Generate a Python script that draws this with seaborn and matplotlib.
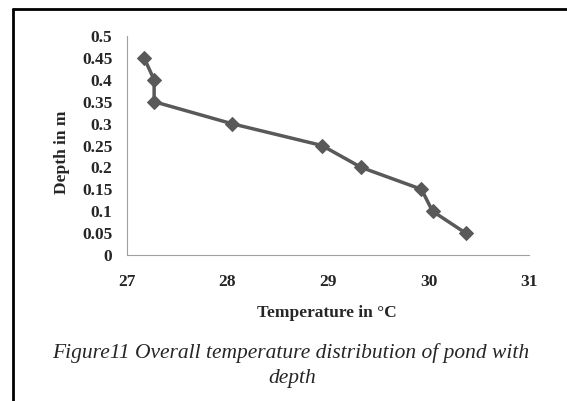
import matplotlib
matplotlib.use("Agg")
import matplotlib.pyplot as plt
import seaborn as sns
import pandas as pd
from matplotlib.lines import Line2D

temperature = [27.17, 27.27, 27.27, 28.04, 28.94, 29.33, 29.93, 30.04, 30.37]
depth = [0.45, 0.40, 0.35, 0.30, 0.25, 0.20, 0.15, 0.10, 0.05]
x_ticks = [27, 28, 29, 30, 31]
y_ticks = [0, 0.05, 0.1, 0.15, 0.2, 0.25, 0.3, 0.35, 0.4, 0.45, 0.5]
y_tick_labels = ["0", "0.05", "0.1", "0.15", "0.2", "0.25", "0.3", "0.35", "0.4", "0.45", "0.5"]

df = pd.DataFrame({"Temperature": temperature, "Depth": depth})

sns.set_style("white")
plt.rcParams["font.family"] = ["Liberation Serif", "DejaVu Serif"]

W, H = 567, 401
fig = plt.figure(figsize=(5.67, 4.01), dpi=100)
ax = fig.add_axes([127 / W, 1 - 255 / H, 402 / W, 219 / H])

sns.lineplot(data=df, x="Temperature", y="Depth", sort=False, estimator=None,
             ax=ax, color="#595959", linewidth=2.5, marker="D", markersize=7,
             markeredgecolor="#595959", markerfacecolor="#595959")

ax.set_xlim(27, 31)
ax.set_ylim(0, 0.5)
ax.set_xticks(x_ticks)
ax.set_xticklabels([str(t) for t in x_ticks], fontsize=12.5, fontweight="bold")
ax.set_yticks(y_ticks)
ax.set_yticklabels(y_tick_labels, fontsize=12.5, fontweight="bold")
ax.tick_params(axis="both", direction="out", length=3.5, width=0.8, color="#a0a0a0")
ax.tick_params(axis="x", pad=10)
ax.tick_params(axis="y", pad=7)
for s in ["top", "right"]:
    ax.spines[s].set_visible(False)
for s in ["left", "bottom"]:
    ax.spines[s].set_color("#a0a0a0")
    ax.spines[s].set_linewidth(0.8)

ax.set_xlabel("")
ax.set_ylabel("")
fig.text(327 / W, 1 - 313 / H, "Temperature in °C", ha="center", va="center",
         fontsize=12.5, fontweight="bold")
fig.text(62 / W, 1 - 152 / H, "Depth in m", ha="center", va="center",
         fontsize=12.5, fontweight="bold", rotation=90)

fig.text(291 / W, 1 - 353 / H, "Figure11 Overall temperature distribution of pond with",
         ha="center", va="center", fontsize=15.5, style="italic")
fig.text(292 / W, 1 - 378 / H, "depth",
         ha="center", va="center", fontsize=15.5, style="italic")

# outer black frame (left and top)
fig.add_artist(Line2D([13 / W, 13 / W], [0, 1 - 9 / H], transform=fig.transFigure,
                      color="black", linewidth=2))
fig.add_artist(Line2D([13 / W, 1], [1 - 9 / H, 1 - 9 / H], transform=fig.transFigure,
                      color="black", linewidth=2))

fig.savefig("out.png", dpi=100)
